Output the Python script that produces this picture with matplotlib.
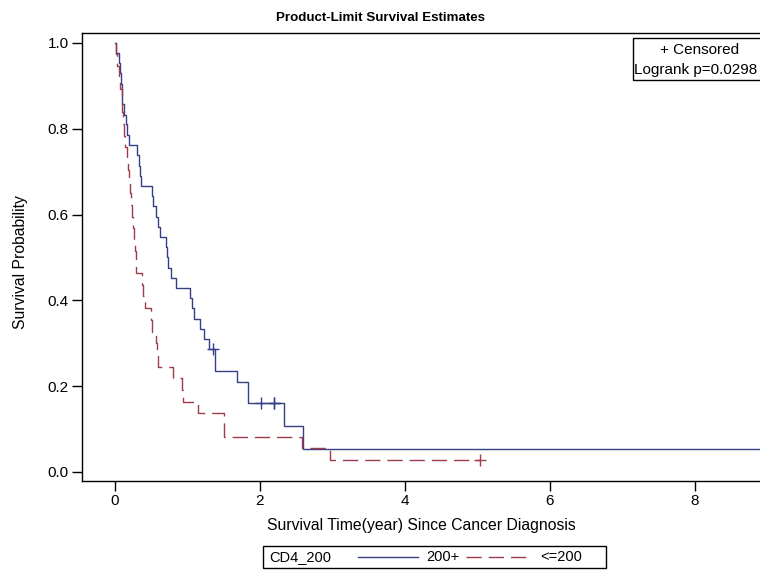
import matplotlib
matplotlib.use("Agg")
from matplotlib import pyplot as plt
from matplotlib.patches import Rectangle
from matplotlib.lines import Line2D

plt.rcParams['font.family'] = ['Liberation Sans', 'DejaVu Sans']

# CD4 200+ group: event times (years) and survival after each drop
hiTimes = [0.0, 0.02, 0.05, 0.07, 0.085, 0.095, 0.10, 0.13, 0.15, 0.17, 0.195,
           0.30, 0.335, 0.35, 0.36, 0.505, 0.53, 0.56, 0.59, 0.62, 0.71, 0.715,
           0.735, 0.77, 0.84, 1.04, 1.06, 1.09, 1.17, 1.23, 1.30, 1.38, 1.385,
           1.68, 1.83, 1.835, 2.335, 2.59, 9.0]
hiSurv = [1.0, 0.976, 0.952, 0.929, 0.905, 0.881, 0.857, 0.833, 0.810, 0.786, 0.762,
          0.738, 0.714, 0.690, 0.667, 0.643, 0.619, 0.595, 0.571, 0.548, 0.524, 0.500,
          0.476, 0.452, 0.429, 0.405, 0.381, 0.357, 0.333, 0.310, 0.286, 0.262, 0.236,
          0.210, 0.185, 0.160, 0.107, 0.054, 0.054]
hiCensT = [1.355, 2.01, 2.19, 2.20]
hiCensS = [0.286, 0.160, 0.160, 0.160]

# CD4 <=200 group
loTimes = [0.0, 0.01, 0.03, 0.05, 0.07, 0.09, 0.10, 0.115, 0.13, 0.145, 0.16, 0.175,
           0.19, 0.205, 0.22, 0.235, 0.25, 0.265, 0.28, 0.285, 0.377, 0.39, 0.414,
           0.49, 0.51, 0.56, 0.58, 0.60, 0.80, 0.92, 0.945, 1.15, 1.51, 2.575, 2.97, 5.03]
loSurv = [1.0, 0.973, 0.946, 0.919, 0.892, 0.865, 0.838, 0.811, 0.784, 0.757, 0.730, 0.703,
          0.676, 0.649, 0.622, 0.595, 0.568, 0.541, 0.514, 0.463, 0.436, 0.409, 0.381,
          0.354, 0.327, 0.300, 0.272, 0.245, 0.218, 0.191, 0.164, 0.137, 0.082, 0.055, 0.027, 0.027]
loCensT = [5.03]
loCensS = [0.027]

blue = '#353F86'
red = '#9E3C4C'

fig = plt.figure(figsize=(7.6, 5.72), dpi=100)
W, H = 760.0, 572.0
ax = fig.add_axes([82/W, 1-481/H, (760-82)/W, (481-33)/H])

ax.step(hiTimes, hiSurv, where='post', color=blue, lw=1.0)
ax.step(loTimes, loSurv, where='post', color=red, lw=1.0, dashes=(11, 5))
ax.plot(hiCensT, hiCensS, linestyle='none', marker='+', ms=8, mew=1.0, color=blue)
ax.plot(loCensT, loCensS, linestyle='none', marker='+', ms=8, mew=1.0, color=red)

ax.set_xlim(-0.455, 8.897)
ax.set_ylim(-0.021, 1.023)
ax.set_xticks([0, 2, 4, 6, 8])
ax.set_yticks([0.0, 0.2, 0.4, 0.6, 0.8, 1.0])
ax.set_yticklabels(['0.0', '0.2', '0.4', '0.6', '0.8', '1.0'])
ax.tick_params(direction='out', length=7, width=1, labelsize=11, pad=2.5)
ax.spines['right'].set_visible(False)
for s in ['left', 'bottom', 'top']:
    ax.spines[s].set_linewidth(1.0)

ax.set_xlabel('Survival Time(year) Since Cancer Diagnosis', fontsize=11.3, labelpad=7)
fig.text(21/W, 1-262/H, 'Survival Probability', rotation=90, fontsize=11.3,
         ha='center', va='center')
fig.text(381/W, 1-18/H, 'Product-Limit Survival Estimates', fontsize=9.6,
         fontweight='bold', ha='center', va='center')

# censor / logrank box
fig.add_artist(Rectangle((633/W, 1-80/H), 130/W, 42/H, transform=fig.transFigure,
                         fill=False, lw=1.0, ec='black'))
fig.text(700/W, 1-50/H, '+ Censored', fontsize=11, ha='center', va='center')
fig.text(634/W, 1-70/H, 'Logrank p=0.0298', fontsize=11, ha='left', va='center')

# bottom legend
fig.add_artist(Rectangle((263/W, 1-568/H), (606-263)/W, 22/H, transform=fig.transFigure,
                         fill=False, lw=1.0, ec='black'))
fig.text(269/W, 1-557/H, 'CD4_200', fontsize=10.5, ha='left', va='center')
fig.add_artist(Line2D([358/W, 418/W], [1-557/H, 1-557/H], transform=fig.transFigure,
                      color=blue, lw=1.0))
fig.text(426/W, 1-557/H, '200+', fontsize=10.5, ha='left', va='center')
fig.add_artist(Line2D([466/W, 530/W], [1-557/H, 1-557/H], transform=fig.transFigure,
                      color=red, lw=1.0, dashes=(11, 5)))
fig.text(540/W, 1-557/H, '<=200', fontsize=10.5, ha='left', va='center')

fig.savefig('out.png', dpi=100)
